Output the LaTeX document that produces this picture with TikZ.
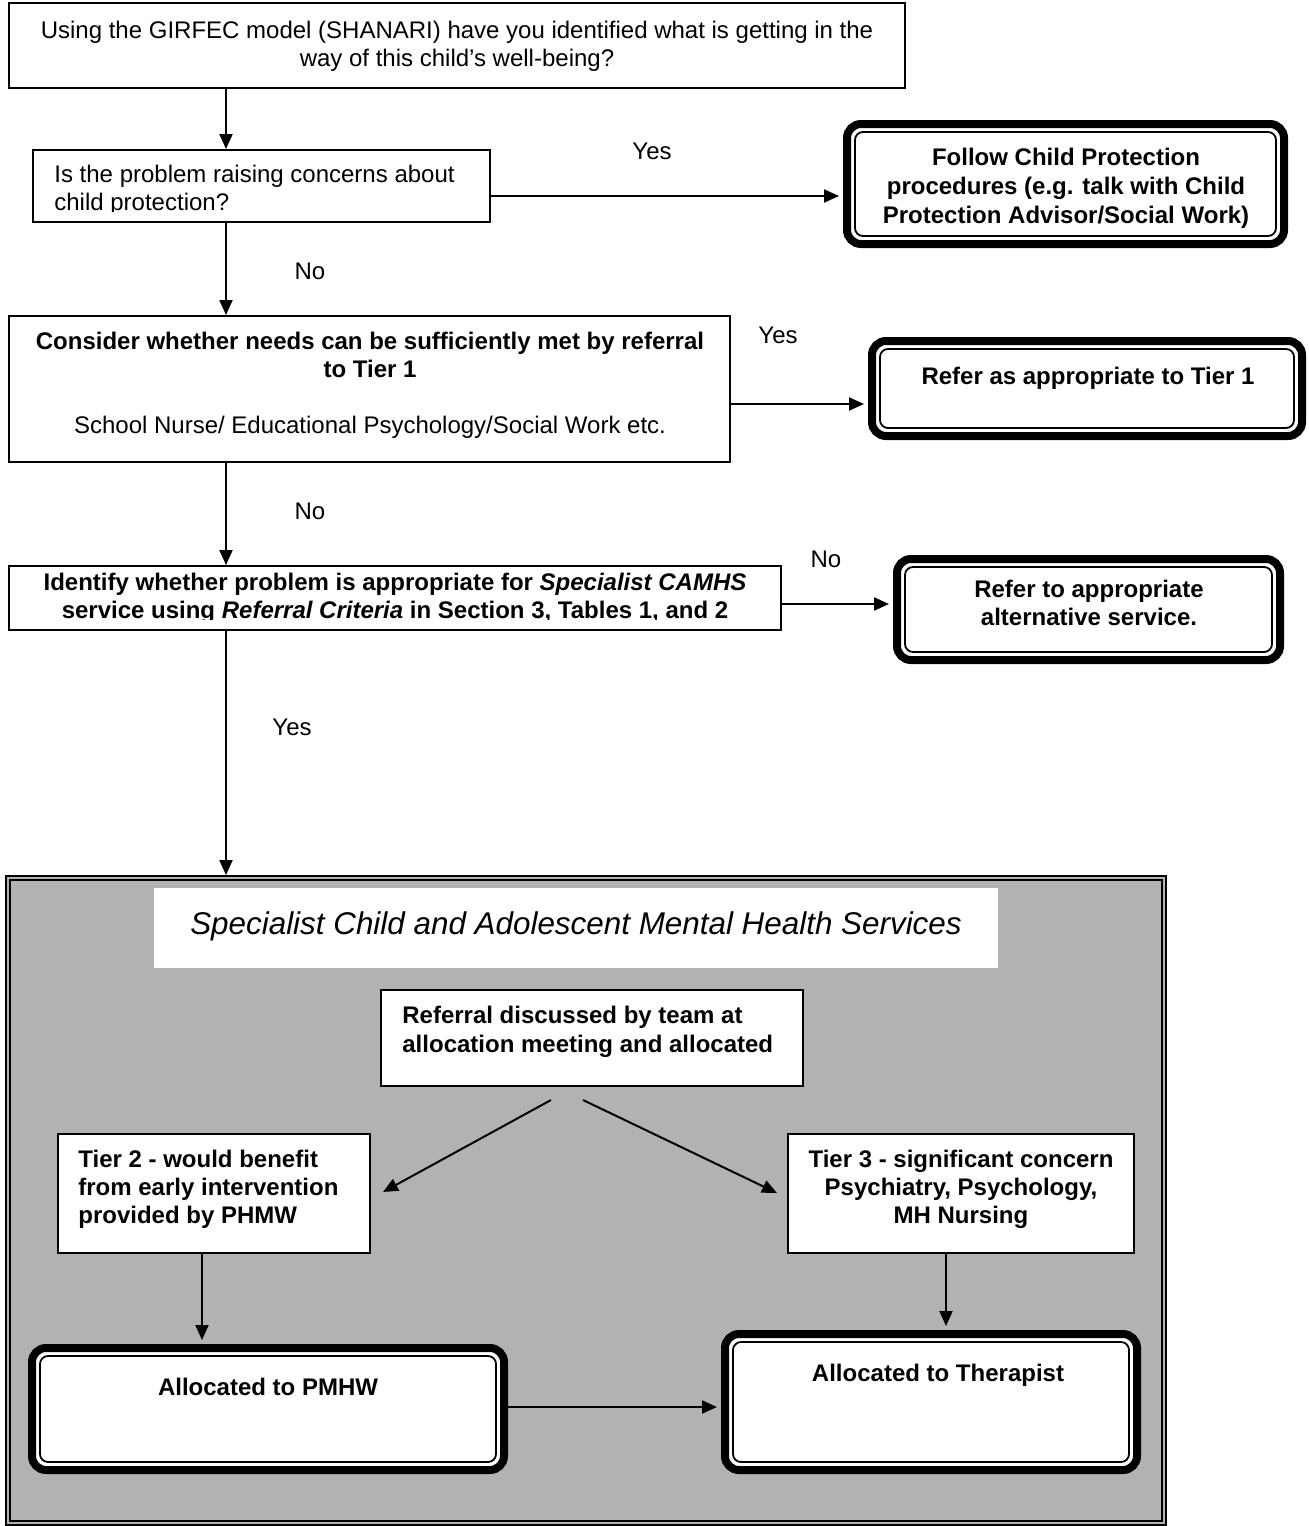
\documentclass[tikz,border=0pt]{standalone}
\usepackage{fontspec}
\setmainfont{Liberation Sans}
\usetikzlibrary{arrows.meta,calc}
\definecolor{panelgray}{RGB}{178,178,178}
\begin{document}
\begin{tikzpicture}[x=0.5pt,y=-0.5pt,
  box/.style={draw,line width=1pt,fill=white,inner sep=0pt,rectangle},
  thickbox/.style={draw,line width=4pt,rounded corners=7pt,fill=white,inner sep=0pt,rectangle,
    path picture={\draw[line width=0.9pt,rounded corners=4pt]
      ([shift={(4pt,4pt)}]path picture bounding box.south west) rectangle
      ([shift={(-4pt,-4pt)}]path picture bounding box.north east);}},
  txt/.style={font=\fontsize{12}{13.6}\selectfont,inner sep=0pt,align=center},
  txtb/.style={font=\fontsize{12}{14}\selectfont\bfseries,inner sep=0pt,align=center},
  lbl/.style={font=\fontsize{12}{13.6}\selectfont,inner sep=0pt,anchor=base},
  arr/.style={line width=1pt,-{Triangle[length=7.5pt,width=6.5pt]}},
  arrt/.style={arr,shorten >=2pt},
]
\useasboundingbox (0,0) rectangle (1308,1526);

% ---- upper flow boxes
\node[box,minimum width=448pt,minimum height=42.5pt] (b1) at (457,45.5) {};
\node[txt,anchor=base] (t1) at (457,66) {Using the GIRFEC model (SHANARI) have you identified what is getting in the\\way of this child’s well-being?};

\node[box,minimum width=228.5pt,minimum height=36pt] (b2) at (261.5,186) {};
\begin{scope}
  \clip (33,150) rectangle (490,211);
  \node[txt,align=left,anchor=base west] (t2) at (54,210) {Is the problem raising concerns about\\child protection?};
\end{scope}

\node[thickbox,minimum width=218.5pt,minimum height=60pt] (b3) at (1065.5,184) {};
\node[txtb,anchor=base] (t3) at (1066,223) {Follow Child Protection\\[0.5pt]procedures (e.g. talk with Child\\[0.5pt]Protection Advisor/Social Work)};

\node[box,minimum width=360.5pt,minimum height=73pt] (b4) at (369.5,389) {};
\node[txtb,font=\fontsize{12}{13.6}\selectfont\bfseries,anchor=base] (t4) at (370,377) {Consider whether needs can be sufficiently met by referral\\to Tier 1};
\node[txt,anchor=base] (t4b) at (370,433) {School Nurse/ Educational Psychology/Social Work etc.};

\node[thickbox,minimum width=215pt,minimum height=47.5pt] (b5) at (1087,388.5) {};
\node[txtb,anchor=base] (t5) at (1088,384) {Refer as appropriate to Tier 1};

\node[box,minimum width=386pt,minimum height=32pt] (b6) at (395,598) {};
\begin{scope}
  \clip (9,566) rectangle (781,619);
  \node[txtb,font=\fontsize{12}{13.6}\selectfont\bfseries,anchor=base] (t6) at (395,618) {Identify whether problem is appropriate for \textit{Specialist CAMHS}\\service using \textit{Referral Criteria} in Section 3, Tables 1, and 2};
\end{scope}

\node[thickbox,minimum width=191.5pt,minimum height=50.5pt] (b7) at (1088.5,609.5) {};
\node[txtb,font=\fontsize{12}{13.6}\selectfont\bfseries,anchor=base] (t7) at (1089,625) {Refer to appropriate\\alternative service.};

% ---- labels
\node[lbl] (l1) at (652,159) {Yes};
\node[lbl] (l2) at (310,279) {No};
\node[lbl] (l3) at (778,343) {Yes};
\node[lbl] (l4) at (310,519) {No};
\node[lbl] (l5) at (826,567) {No};
\node[lbl] (l6) at (292,735) {Yes};

% ---- specialist panel
\node[draw,line width=0.9pt,fill=panelgray,inner sep=0pt,minimum width=580pt,minimum height=324.5pt] (panel) at (586,1200.5) {};
\draw[line width=1pt] (10,880) rectangle (1162,1521);
\node[fill=white,inner sep=0pt,minimum width=422pt,minimum height=40pt] (title) at (576,928) {};
\node[font=\fontsize{15.7}{18}\selectfont\itshape,inner sep=0pt,anchor=base] (tt) at (576,934) {Specialist Child and Adolescent Mental Health Services};

\node[box,minimum width=211pt,minimum height=48pt] (ref) at (592,1038) {};
\node[txtb,font=\fontsize{12}{14.5}\selectfont\bfseries,align=left,anchor=base west] (tref) at (402,1052) {Referral discussed by team at\\allocation meeting and allocated};

\node[box,minimum width=156pt,minimum height=59.5pt] (tier2) at (214,1193.5) {};
\node[txtb,align=left,anchor=base west] (ttier2) at (78,1223) {Tier 2 - would benefit\\from early intervention\\provided by PHMW};

\node[box,minimum width=173pt,minimum height=59.5pt] (tier3) at (961,1193.5) {};
\node[txtb,anchor=base] (ttier3) at (961,1223) {Tier 3 - significant concern\\Psychiatry, Psychology,\\MH Nursing};

\node[thickbox,minimum width=236pt,minimum height=61pt] (pmhw) at (268,1409) {};
\node[txtb,anchor=base] (tpmhw) at (268,1395) {Allocated to PMHW};

\node[thickbox,minimum width=206pt,minimum height=68pt] (ther) at (931,1402) {};
\node[txtb,anchor=base] (tther) at (938,1381) {Allocated to Therapist};

% ---- connectors
\coordinate (xa) at (226,0);
\coordinate (ya) at (0,196);
\coordinate (yb) at (0,404);
\coordinate (yc) at (0,604);
\coordinate (xb) at (202,0);
\coordinate (xc) at (946,0);
\coordinate (yd) at (0,1407);
\coordinate (d1s) at (551,1100);
\coordinate (d1e) at (383,1192);
\coordinate (d2s) at (583,1100);
\coordinate (d2e) at (777,1193);

\draw[arr] (b1.south -| xa) -- (b2.north -| xa);
\draw[arrt] (b2.east |- ya) -- (b3.west |- ya);
\draw[arr] (b2.south -| xa) -- (b4.north -| xa);
\draw[arrt] (b4.east |- yb) -- (b5.west |- yb);
\draw[arr] (b4.south -| xa) -- (b6.north -| xa);
\draw[arrt] (b6.east |- yc) -- (b7.west |- yc);
\draw[arr] (b6.south -| xa) -- (panel.north -| xa);
\draw[arr] (d1s) -- (d1e);
\draw[arr] (d2s) -- (d2e);
\draw[arrt] (tier2.south -| xb) -- (pmhw.north -| xb);
\draw[arrt] (tier3.south -| xc) -- (ther.north -| xc);
\draw[arrt] (pmhw.east |- yd) -- (ther.west |- yd);
\end{tikzpicture}
\end{document}
